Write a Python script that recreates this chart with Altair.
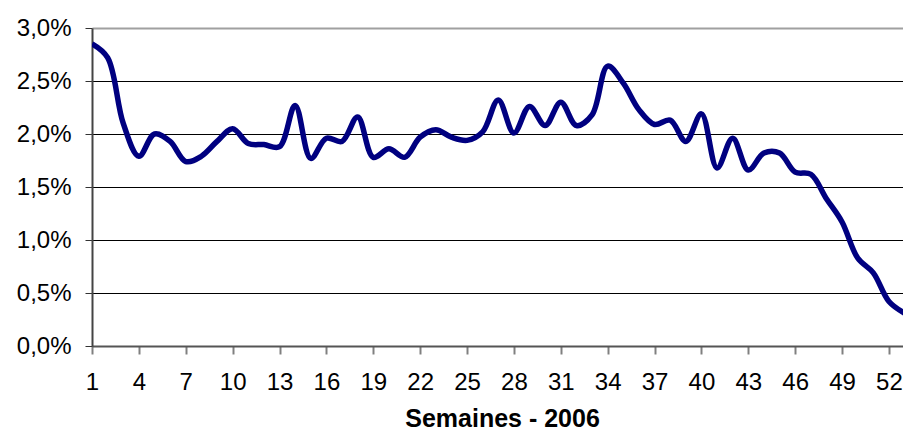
import altair as alt
import pandas as pd

weeks = list(range(1, 54))
values = [2.85, 2.72, 2.10, 1.79, 2.00, 1.93, 1.74, 1.79, 1.93, 2.05,
          1.91, 1.90, 1.88, 2.27, 1.77, 1.96, 1.93, 2.16, 1.78, 1.86,
          1.78, 1.97, 2.04, 1.97, 1.94, 2.02, 2.32, 2.01, 2.26, 2.08,
          2.30, 2.08, 2.18, 2.64, 2.48, 2.23, 2.09, 2.13, 1.93, 2.19,
          1.68, 1.96, 1.66, 1.82, 1.82, 1.64, 1.62, 1.39, 1.17, 0.83,
          0.69, 0.42, 0.31]
x_ticks = list(range(1, 53, 3))
y_ticks = [0, 0.5, 1.0, 1.5, 2.0, 2.5, 3.0]
x_title = "Semaines - 2006"

df = pd.DataFrame({"semaine": weeks, "valeur": values})

FONT = "Liberation Sans"

chart = alt.Chart(df).mark_line(
    color="#000080", strokeWidth=5.5, interpolate="catmull-rom", clip=True
).encode(
    x=alt.X("semaine:Q",
            scale=alt.Scale(domain=[1, 52.9], nice=False, zero=False),
            axis=alt.Axis(values=x_ticks, format="d", grid=False,
                          tickSize=8, tickColor="#808080", tickWidth=2,
                          domainColor="#555555", domainWidth=2,
                          labelFont=FONT, labelFontSize=24, labelColor="black",
                          labelPadding=16, labelFlush=False, labelOverlap=False,
                          title=x_title, titleFont=FONT, titleFontSize=25,
                          titleFontWeight="bold", titleColor="black",
                          titleX=410, titleY=80, titleAlign="center",
                          titleBaseline="alphabetic")),
    y=alt.Y("valeur:Q",
            scale=alt.Scale(domain=[0, 3], nice=False),
            axis=alt.Axis(values=y_ticks,
                          labelExpr="replace(format(datum.value, '.1f'), '.', ',') + '%'",
                          grid=True,
                          gridColor=alt.condition("datum.value >= 3", alt.value("#a0a0a0"), alt.value("black")),
                          gridWidth=alt.condition("datum.value >= 3", alt.value(2), alt.value(1)),
                          tickSize=7, tickColor="#333333", tickWidth=1,
                          domainColor="#444444", domainWidth=2,
                          labelFont=FONT, labelFontSize=24, labelColor="black",
                          labelPadding=14, labelFlush=False, labelOverlap=False,
                          title=None)),
).properties(
    width=811, height=318,
    padding={"left": 84, "top": 20, "right": 0, "bottom": 85},
    autosize=alt.AutoSizeParams(type="none"),
).configure_view(stroke=None)

chart.save("out.html", embed_options={"renderer": "svg", "actions": False})
